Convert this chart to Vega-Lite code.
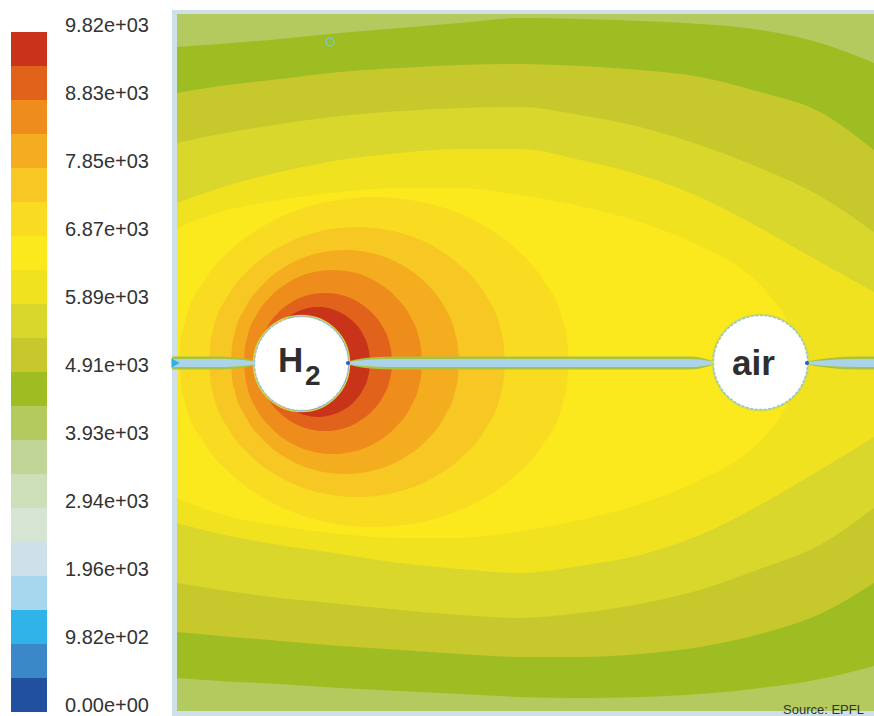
{
  "$schema": "https://vega.github.io/schema/vega-lite/v6.json",
  "width": 874,
  "height": 716,
  "autosize": {"type": "none"},
  "padding": 0,
  "background": "#ffffff",
  "config": {"view": {"stroke": null}, "font": "Liberation Sans", "legend": {"disable": true}},
  "datasets": {
    "regions": [
      {"l":5,"x":0,"y":35.2,"y2":-35.4},{"l":5,"x":70.2,"y":35.2,"y2":-35.4},
      {"l":9,"x":0.5,"y":34.8,"y2":-34.9},{"l":9,"x":70.2,"y":34.8,"y2":-34.9},
      {"l":10,"x":0.5,"y":31.5,"y2":-31.6},{"l":10,"x":4.8,"y":31.8,"y2":-31.9},{"l":10,"x":10.8,"y":32.3,"y2":-32.2},{"l":10,"x":16.8,"y":32.9,"y2":-32.6},{"l":10,"x":22.8,"y":33.4,"y2":-32.9},{"l":10,"x":28.8,"y":33.9,"y2":-33.2},{"l":10,"x":34.8,"y":34.4,"y2":-33.5},{"l":10,"x":40.8,"y":34.3,"y2":-33.6},{"l":10,"x":46.8,"y":34.1,"y2":-33.5},{"l":10,"x":52.8,"y":33.8,"y2":-33.2},{"l":10,"x":58.8,"y":33.2,"y2":-32.6},{"l":10,"x":64.8,"y":31.9,"y2":-31.7},{"l":10,"x":70.2,"y":29.9,"y2":-30.4},
      {"l":11,"x":0.5,"y":26.9,"y2":-27.0},{"l":11,"x":4.8,"y":27.6,"y2":-27.4},{"l":11,"x":10.8,"y":28.3,"y2":-27.9},{"l":11,"x":16.8,"y":29.0,"y2":-28.4},{"l":11,"x":22.8,"y":29.4,"y2":-28.8},{"l":11,"x":28.8,"y":29.7,"y2":-29.2},{"l":11,"x":34.8,"y":29.8,"y2":-29.5},{"l":11,"x":40.8,"y":29.6,"y2":-29.5},{"l":11,"x":46.8,"y":29.2,"y2":-29.2},{"l":11,"x":52.8,"y":28.5,"y2":-28.5},{"l":11,"x":58.8,"y":27.0,"y2":-27.2},{"l":11,"x":64.8,"y":25.0,"y2":-25.2},{"l":11,"x":70.2,"y":21.2,"y2":-22.1},
      {"l":12,"x":0.5,"y":21.9,"y2":-22.1},{"l":12,"x":4.8,"y":22.8,"y2":-22.8},{"l":12,"x":10.8,"y":23.8,"y2":-23.6},{"l":12,"x":16.8,"y":24.6,"y2":-24.2},{"l":12,"x":22.8,"y":25.1,"y2":-24.8},{"l":12,"x":28.8,"y":25.4,"y2":-25.3},{"l":12,"x":34.8,"y":25.5,"y2":-25.6},{"l":12,"x":40.8,"y":24.7,"y2":-25.1},{"l":12,"x":46.8,"y":23.5,"y2":-24.2},{"l":12,"x":52.8,"y":21.7,"y2":-22.8},{"l":12,"x":58.8,"y":19.4,"y2":-20.7},{"l":12,"x":64.8,"y":16.6,"y2":-18.3},{"l":12,"x":70.2,"y":13.0,"y2":-14.6},
      {"l":13,"x":0.5,"y":15.9,"y2":-16.1},{"l":13,"x":4.8,"y":17.4,"y2":-17.2},{"l":13,"x":10.8,"y":19.0,"y2":-18.3},{"l":13,"x":16.8,"y":20.2,"y2":-19.2},{"l":13,"x":22.8,"y":20.9,"y2":-20.1},{"l":13,"x":28.8,"y":21.3,"y2":-20.7},{"l":13,"x":34.8,"y":21.3,"y2":-21.1},{"l":13,"x":40.8,"y":20.2,"y2":-20.4},{"l":13,"x":46.8,"y":18.7,"y2":-19.3},{"l":13,"x":52.8,"y":16.5,"y2":-17.3},{"l":13,"x":58.8,"y":13.4,"y2":-14.3},{"l":13,"x":64.8,"y":10.0,"y2":-10.8},{"l":13,"x":70.2,"y":7.0,"y2":-7.5},
      {"l":14,"x":0.5,"y":13.4,"y2":-13.6},{"l":14,"x":4.8,"y":15.0,"y2":-15.2},{"l":14,"x":10.8,"y":16.2,"y2":-16.4},{"l":14,"x":16.8,"y":17.0,"y2":-17.2},{"l":14,"x":22.8,"y":17.4,"y2":-17.6},{"l":14,"x":28.8,"y":17.4,"y2":-17.6},{"l":14,"x":34.8,"y":16.7,"y2":-16.9},{"l":14,"x":40.8,"y":15.6,"y2":-15.8},{"l":14,"x":46.8,"y":14.0,"y2":-14.2},{"l":14,"x":52.8,"y":11.6,"y2":-11.8},{"l":14,"x":56.8,"y":9.4,"y2":-9.6},{"l":14,"x":59.8,"y":6.6,"y2":-6.8},{"l":14,"x":61.8,"y":3.2,"y2":-3.4},{"l":14,"x":62.6,"y":0,"y2":0},
      {"l":15,"x":0.7,"y":0,"y2":0},{"l":15,"x":0.88,"y":2.16,"y2":-2.16},{"l":15,"x":1.36,"y":4.27,"y2":-4.27},{"l":15,"x":3.31,"y":8.25,"y2":-8.25},{"l":15,"x":6.41,"y":11.67,"y2":-11.67},{"l":15,"x":10.45,"y":14.29,"y2":-14.29},{"l":15,"x":15.15,"y":15.94,"y2":-15.94},{"l":15,"x":20.2,"y":16.5,"y2":-16.5},{"l":15,"x":25.25,"y":15.94,"y2":-15.94},{"l":15,"x":29.95,"y":14.29,"y2":-14.29},{"l":15,"x":33.99,"y":11.67,"y2":-11.67},{"l":15,"x":37.09,"y":8.25,"y2":-8.25},{"l":15,"x":39.04,"y":4.27,"y2":-4.27},{"l":15,"x":39.52,"y":2.16,"y2":-2.16},{"l":15,"x":39.7,"y":0,"y2":0},
      {"l":16,"x":3.7,"y":0,"y2":0},{"l":16,"x":3.83,"y":1.77,"y2":-1.77},{"l":16,"x":4.2,"y":3.5,"y2":-3.5},{"l":16,"x":5.68,"y":6.75,"y2":-6.75},{"l":16,"x":8.04,"y":9.54,"y2":-9.54},{"l":16,"x":11.1,"y":11.69,"y2":-11.69},{"l":16,"x":14.67,"y":13.04,"y2":-13.04},{"l":16,"x":18.5,"y":13.5,"y2":-13.5},{"l":16,"x":22.33,"y":13.04,"y2":-13.04},{"l":16,"x":25.9,"y":11.69,"y2":-11.69},{"l":16,"x":28.96,"y":9.54,"y2":-9.54},{"l":16,"x":31.32,"y":6.75,"y2":-6.75},{"l":16,"x":32.8,"y":3.5,"y2":-3.5},{"l":16,"x":33.17,"y":1.77,"y2":-1.77},{"l":16,"x":33.3,"y":0,"y2":0},
      {"l":17,"x":5.9,"y":0,"y2":0},{"l":17,"x":6.0,"y":1.47,"y2":-1.47},{"l":17,"x":6.29,"y":2.9,"y2":-2.9},{"l":17,"x":7.43,"y":5.6,"y2":-5.6},{"l":17,"x":9.24,"y":7.92,"y2":-7.92},{"l":17,"x":11.6,"y":9.7,"y2":-9.7},{"l":17,"x":14.35,"y":10.82,"y2":-10.82},{"l":17,"x":17.3,"y":11.2,"y2":-11.2},{"l":17,"x":20.25,"y":10.82,"y2":-10.82},{"l":17,"x":23.0,"y":9.7,"y2":-9.7},{"l":17,"x":25.36,"y":7.92,"y2":-7.92},{"l":17,"x":27.17,"y":5.6,"y2":-5.6},{"l":17,"x":28.31,"y":2.9,"y2":-2.9},{"l":17,"x":28.6,"y":1.47,"y2":-1.47},{"l":17,"x":28.7,"y":0,"y2":0},
      {"l":18,"x":7.2,"y":0,"y2":0},{"l":18,"x":7.28,"y":1.21,"y2":-1.21},{"l":18,"x":7.5,"y":2.38,"y2":-2.38},{"l":18,"x":8.39,"y":4.6,"y2":-4.6},{"l":18,"x":9.81,"y":6.5,"y2":-6.5},{"l":18,"x":11.65,"y":7.97,"y2":-7.97},{"l":18,"x":13.79,"y":8.89,"y2":-8.89},{"l":18,"x":16.1,"y":9.2,"y2":-9.2},{"l":18,"x":18.41,"y":8.89,"y2":-8.89},{"l":18,"x":20.55,"y":7.97,"y2":-7.97},{"l":18,"x":22.39,"y":6.5,"y2":-6.5},{"l":18,"x":23.81,"y":4.6,"y2":-4.6},{"l":18,"x":24.7,"y":2.38,"y2":-2.38},{"l":18,"x":24.92,"y":1.21,"y2":-1.21},{"l":18,"x":25.0,"y":0,"y2":0},
      {"l":19,"x":8.6,"y":0,"y2":0},{"l":19,"x":8.66,"y":0.9,"y2":-0.9},{"l":19,"x":8.83,"y":1.79,"y2":-1.79},{"l":19,"x":9.5,"y":3.45,"y2":-3.45},{"l":19,"x":10.56,"y":4.88,"y2":-4.88},{"l":19,"x":11.95,"y":5.98,"y2":-5.98},{"l":19,"x":13.56,"y":6.67,"y2":-6.67},{"l":19,"x":15.3,"y":6.9,"y2":-6.9},{"l":19,"x":17.04,"y":6.67,"y2":-6.67},{"l":19,"x":18.65,"y":5.98,"y2":-5.98},{"l":19,"x":20.04,"y":4.88,"y2":-4.88},{"l":19,"x":21.1,"y":3.45,"y2":-3.45},{"l":19,"x":21.77,"y":1.79,"y2":-1.79},{"l":19,"x":21.94,"y":0.9,"y2":-0.9},{"l":19,"x":22.0,"y":0,"y2":0},
      {"l":20,"x":9.4,"y":0,"y2":0},{"l":20,"x":9.45,"y":0.72,"y2":-0.72},{"l":20,"x":9.58,"y":1.42,"y2":-1.42},{"l":20,"x":10.1,"y":2.75,"y2":-2.75},{"l":20,"x":10.92,"y":3.89,"y2":-3.89},{"l":20,"x":12.0,"y":4.76,"y2":-4.76},{"l":20,"x":13.25,"y":5.31,"y2":-5.31},{"l":20,"x":14.6,"y":5.5,"y2":-5.5},{"l":20,"x":15.95,"y":5.31,"y2":-5.31},{"l":20,"x":17.2,"y":4.76,"y2":-4.76},{"l":20,"x":18.28,"y":3.89,"y2":-3.89},{"l":20,"x":19.1,"y":2.75,"y2":-2.75},{"l":20,"x":19.62,"y":1.42,"y2":-1.42},{"l":20,"x":19.75,"y":0.72,"y2":-0.72},{"l":20,"x":19.8,"y":0,"y2":0}
    ],
    "slitOuter": [
      {"s":"A","x":0,"y":0.55,"y2":-0.75},{"s":"A","x":5.0,"y":0.55,"y2":-0.75},{"s":"A","x":5.8,"y":0.5,"y2":-0.7},{"s":"A","x":7.3,"y":0.35,"y2":-0.55},{"s":"A","x":8.0,"y":0.2,"y2":-0.4},{"s":"A","x":8.5,"y":0.05,"y2":-0.25},
      {"s":"B","x":17.4,"y":0.02,"y2":-0.22},{"s":"B","x":17.8,"y":0.1,"y2":-0.3},{"s":"B","x":18.4,"y":0.25,"y2":-0.45},{"s":"B","x":19.3,"y":0.4,"y2":-0.6},{"s":"B","x":20.6,"y":0.5,"y2":-0.7},{"s":"B","x":22.3,"y":0.55,"y2":-0.75},{"s":"B","x":51.8,"y":0.55,"y2":-0.75},{"s":"B","x":52.8,"y":0.45,"y2":-0.65},{"s":"B","x":53.6,"y":0.25,"y2":-0.45},{"s":"B","x":54.2,"y":0.05,"y2":-0.25},
      {"s":"C","x":63.4,"y":0.02,"y2":-0.22},{"s":"C","x":63.8,"y":0.1,"y2":-0.3},{"s":"C","x":64.6,"y":0.25,"y2":-0.45},{"s":"C","x":65.8,"y":0.4,"y2":-0.6},{"s":"C","x":67.3,"y":0.52,"y2":-0.72},{"s":"C","x":70.2,"y":0.55,"y2":-0.75}
    ],
    "slitInner": [
      {"s":"A","x":0,"y":0.3,"y2":-0.5},{"s":"A","x":5.0,"y":0.3,"y2":-0.5},{"s":"A","x":5.8,"y":0.27,"y2":-0.47},{"s":"A","x":7.3,"y":0.18,"y2":-0.38},{"s":"A","x":8.0,"y":0.08,"y2":-0.28},{"s":"A","x":8.5,"y":-0.01,"y2":-0.19},
      {"s":"B","x":17.4,"y":-0.03,"y2":-0.17},{"s":"B","x":17.8,"y":0.02,"y2":-0.22},{"s":"B","x":18.4,"y":0.12,"y2":-0.32},{"s":"B","x":19.3,"y":0.21,"y2":-0.41},{"s":"B","x":20.6,"y":0.27,"y2":-0.47},{"s":"B","x":22.3,"y":0.3,"y2":-0.5},{"s":"B","x":51.8,"y":0.3,"y2":-0.5},{"s":"B","x":52.8,"y":0.24,"y2":-0.44},{"s":"B","x":53.6,"y":0.12,"y2":-0.32},{"s":"B","x":54.2,"y":-0.01,"y2":-0.19},
      {"s":"C","x":63.4,"y":-0.03,"y2":-0.17},{"s":"C","x":63.8,"y":0.02,"y2":-0.22},{"s":"C","x":64.6,"y":0.12,"y2":-0.32},{"s":"C","x":65.8,"y":0.21,"y2":-0.41},{"s":"C","x":67.3,"y":0.28,"y2":-0.48},{"s":"C","x":70.2,"y":0.3,"y2":-0.5}
    ],
    "circles": [{"n":"H2","x":12.95,"y":-0.15},{"n":"air","x":58.85,"y":-0.05}],
    "dots": [{"x":17.6,"y":-0.1},{"x":63.5,"y":-0.1}],
    "bigText": [{"t":"H","x":10.6,"y":-1.0},{"t":"air","x":56.0,"y":-1.3}],
    "subText": [{"t":"2","x":13.3,"y":-2.3}],
    "source": [{"t":"Source: EPFL","x":61.1,"y":-35.2}],
    "bar": [
      {"l":1,"lo":0,"hi":490.8},{"l":2,"lo":490.8,"hi":981.6},{"l":3,"lo":981.6,"hi":1472.4},{"l":4,"lo":1472.4,"hi":1963.2},{"l":5,"lo":1963.2,"hi":2454},
      {"l":6,"lo":2454,"hi":2944.8},{"l":7,"lo":2944.8,"hi":3435.6},{"l":8,"lo":3435.6,"hi":3926.4},{"l":9,"lo":3926.4,"hi":4417.2},{"l":10,"lo":4417.2,"hi":4908},
      {"l":11,"lo":4908,"hi":5398.8},{"l":12,"lo":5398.8,"hi":5889.6},{"l":13,"lo":5889.6,"hi":6380.4},{"l":14,"lo":6380.4,"hi":6871.2},{"l":15,"lo":6871.2,"hi":7362},
      {"l":16,"lo":7362,"hi":7852.8},{"l":17,"lo":7852.8,"hi":8343.6},{"l":18,"lo":8343.6,"hi":8834.4},{"l":19,"lo":8834.4,"hi":9325.2},{"l":20,"lo":9325.2,"hi":9816}
    ],
    "ticks": [
      {"v":9816,"t":"9.82e+03"},{"v":8834.4,"t":"8.83e+03"},{"v":7852.8,"t":"7.85e+03"},{"v":6871.2,"t":"6.87e+03"},{"v":5889.6,"t":"5.89e+03"},{"v":4908,"t":"4.91e+03"},
      {"v":3926.4,"t":"3.93e+03"},{"v":2944.8,"t":"2.94e+03"},{"v":1963.2,"t":"1.96e+03"},{"v":981.6,"t":"9.82e+02"},{"v":0,"t":"0.00e+00"}
    ]
  },
  "layer": [
    {
      "encoding": {
        "x": {"field": "x", "type": "quantitative", "scale": {"domain": [-17.2, 70.2], "nice": false, "zero": false}, "axis": null},
        "y": {"field": "y", "type": "quantitative", "scale": {"domain": [-35.4, 36.2], "nice": false, "zero": false}, "axis": null, "stack": null}
      },
      "layer": [
        {
          "data": {"name": "regions"},
          "mark": {"type": "area", "interpolate": "monotone", "opacity": 1},
          "encoding": {
            "y2": {"field": "y2"},
            "color": {"field": "l", "type": "ordinal", "legend": null,
              "scale": {"domain": [1,2,3,4,5,6,7,8,9,10,11,12,13,14,15,16,17,18,19,20],
                "range": ["#21509f","#3a88c8","#30b3e8","#a7d7ef","#cfe1e8","#d6e4d3","#cddfb8","#c0d596","#b2ca5e","#9dbd22","#c6c82c","#d9d62c","#f1e21f","#fbe91e","#f9dc21","#f7c723","#f4ad1f","#ee8d1b","#e1621a","#c9331a"]}}
          }
        },
        {
          "data": {"name": "slitOuter"},
          "mark": {"type": "area", "interpolate": "monotone", "color": "#a8c244", "opacity": 1},
          "encoding": {"y2": {"field": "y2"}, "detail": {"field": "s"}}
        },
        {
          "data": {"name": "slitInner"},
          "mark": {"type": "area", "interpolate": "monotone", "color": "#acd4e8", "opacity": 1},
          "encoding": {"y2": {"field": "y2"}, "detail": {"field": "s"}}
        },
        {
          "data": {"values": [{}]},
          "mark": {"type": "rule", "color": "#36aee6", "strokeWidth": 4},
          "encoding": {
            "x": {"datum": 0, "type": "quantitative", "axis": null},
            "y": {"datum": 35.2, "type": "quantitative", "axis": null},
            "y2": {"datum": -35.4}
          }
        },
        {
          "data": {"values": [{"x": 0.35, "y": -0.1}]},
          "mark": {"type": "point", "shape": "triangle-right", "filled": true, "size": 90, "color": "#2fb0e8", "opacity": 1}
        },
        {
          "data": {"values": [{"x": 15.8, "y": 32.0}]},
          "mark": {"type": "point", "shape": "circle", "filled": false, "size": 64, "color": "#78c4e8", "strokeWidth": 1.2, "opacity": 1}
        },
        {
          "data": {"name": "circles"},
          "mark": {"type": "point", "shape": "circle", "filled": false, "size": 9216, "color": "#d2da4e", "strokeWidth": 1.5, "opacity": 1}
        },
        {
          "data": {"name": "circles"},
          "mark": {"type": "point", "shape": "circle", "filled": true, "fill": "#ffffff", "stroke": "#8fc3e2", "strokeWidth": 1.3, "size": 8836, "opacity": 1, "fillOpacity": 1, "strokeOpacity": 1, "strokeDash": [3, 1.5]}
        },
        {
          "data": {"name": "dots"},
          "mark": {"type": "point", "shape": "circle", "filled": true, "size": 18, "color": "#2d5fc2", "opacity": 1}
        },
        {
          "data": {"name": "bigText"},
          "mark": {"type": "text", "align": "left", "baseline": "alphabetic", "fontSize": 35, "fontWeight": "bold", "font": "Liberation Sans", "color": "#2e2e2e"},
          "encoding": {"text": {"field": "t"}}
        },
        {
          "data": {"name": "subText"},
          "mark": {"type": "text", "align": "left", "baseline": "alphabetic", "fontSize": 28, "fontWeight": "bold", "font": "Liberation Sans", "color": "#2e2e2e"},
          "encoding": {"text": {"field": "t"}}
        },
        {
          "data": {"name": "source"},
          "mark": {"type": "text", "align": "left", "baseline": "alphabetic", "fontSize": 13, "font": "Liberation Sans", "color": "#333333"},
          "encoding": {"text": {"field": "t"}}
        }
      ]
    },
    {
      "layer": [
        {
          "data": {"name": "bar"},
          "mark": {"type": "rect"},
          "encoding": {
            "x": {"datum": -16.1, "type": "quantitative", "scale": {"domain": [-17.2, 70.2], "nice": false, "zero": false}, "axis": null},
            "x2": {"datum": -12.5},
            "y": {"field": "lo", "type": "quantitative", "scale": {"domain": [-57.7, 10278], "nice": false, "zero": false}, "axis": null},
            "y2": {"field": "hi"},
            "color": {"field": "l", "type": "ordinal", "legend": null}
          }
        },
        {
          "data": {"name": "ticks"},
          "mark": {"type": "text", "align": "left", "baseline": "middle", "dy": -6, "fontSize": 20, "font": "Liberation Sans", "color": "#333333"},
          "encoding": {
            "x": {"datum": -10.7, "type": "quantitative", "axis": null},
            "y": {"field": "v", "type": "quantitative", "scale": {"domain": [-57.7, 10278], "nice": false, "zero": false}, "axis": null},
            "text": {"field": "t"}
          }
        }
      ]
    }
  ],
  "resolve": {"scale": {"y": "independent"}}
}
